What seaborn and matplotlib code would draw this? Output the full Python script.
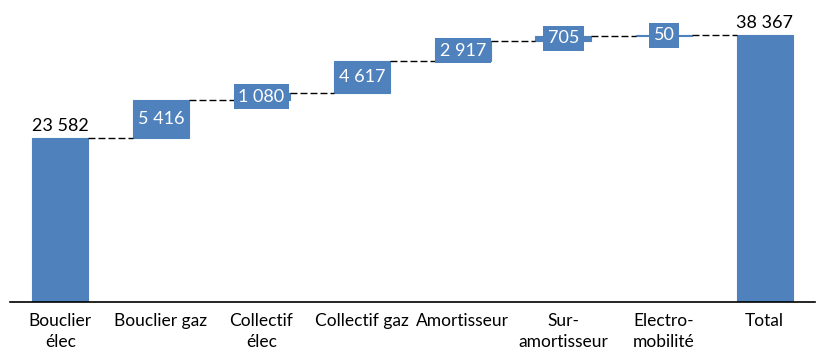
import matplotlib
matplotlib.use("Agg")
import matplotlib.pyplot as plt
import seaborn as sns
import numpy as np
import pandas as pd

categories = ["Bouclier\nélec", "Bouclier gaz", "Collectif\nélec", "Collectif gaz",
              "Amortisseur", "Sur-\namortisseur", "Electro-\nmobilité", "Total"]
values = [23582, 5416, 1080, 4617, 2917, 705, 50, 38367]
is_total = [True, False, False, False, False, False, False, True]

def fmt(v):
    return f"{v:,}".replace(",", " ")

# waterfall geometry derived from values
bottoms = []
cum = 0
for v, t in zip(values, is_total):
    if t:
        bottoms.append(0)
        cum = v
    else:
        bottoms.append(cum)
        cum += v
tops = [b + v for b, v in zip(bottoms, values)]

sns.set_theme(style="white")
plt.rcParams["font.family"] = ["Lato", "DejaVu Sans"]

blue = "#4F81BD"
W, H = 827, 358
fig = plt.figure(figsize=(W / 100, H / 100), dpi=100)
ax = fig.add_axes([10 / W, 56 / H, 805 / W, 292 / H])

df = pd.DataFrame({"cat": categories, "val": values, "bottom": bottoms})
sns.barplot(data=df, x="cat", y="val", order=categories, color=blue,
            saturation=1, width=0.556, bottom=df["bottom"].values, ax=ax,
            edgecolor=blue, linewidth=0.8)

ax.set_xlim(-0.5, 7.5)
ax.set_ylim(0, 42000)

# connectors
bw = 0.556
for i in range(len(values) - 1):
    level = tops[i]
    ax.plot([i + bw / 2, i + 1 - bw / 2], [level, level], color="black",
            lw=1.0, linestyle=(0, (5, 2.2)), zorder=1)

# labels
for i, (v, b, t) in enumerate(zip(values, bottoms, is_total)):
    if t:
        ax.annotate(fmt(v), (i, b + v), xytext=(0, 3), textcoords="offset points",
                    ha="center", va="bottom", fontsize=13, color="black")
    else:
        ax.text(i, b + v / 2, fmt(v), ha="center", va="center", fontsize=13,
                color="white", zorder=5,
                bbox=dict(boxstyle="square,pad=0.25", fc=blue, ec="none"))

ax.set_xlabel("")
ax.set_ylabel("")
ax.set_yticks([])
ax.tick_params(axis="x", length=0, pad=8, labelsize=12.5, colors="black")
for lab in ax.get_xticklabels():
    lab.set_linespacing(1.4)
for s in ["top", "left", "right"]:
    ax.spines[s].set_visible(False)
ax.spines["bottom"].set_color("black")
ax.spines["bottom"].set_linewidth(1.2)

fig.savefig("out.png", dpi=100)
